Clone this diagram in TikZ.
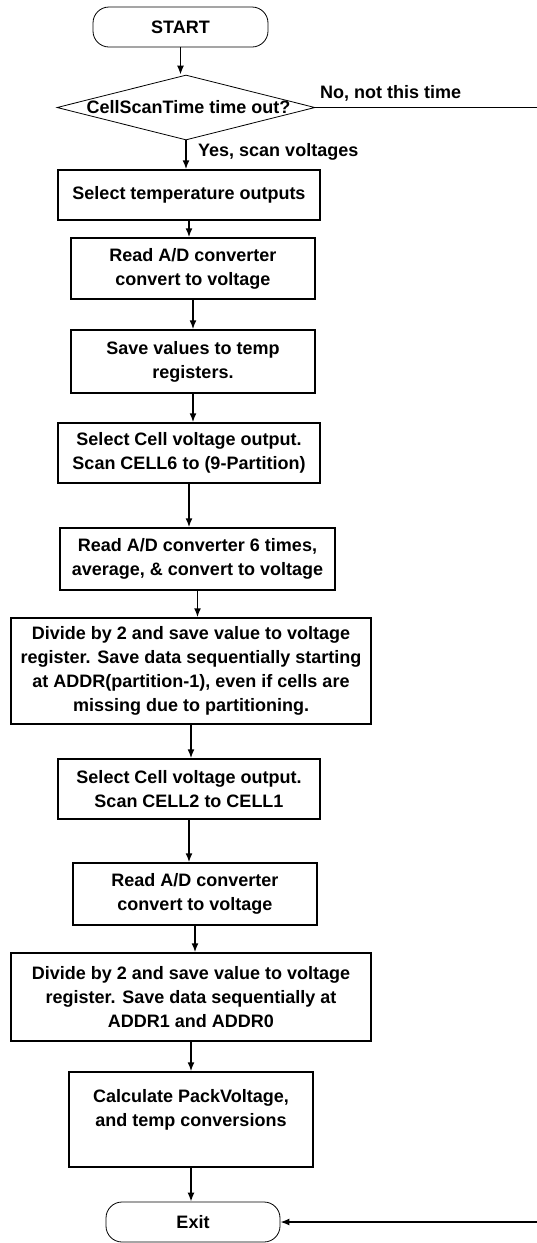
\documentclass[tikz,border=0pt]{standalone}
\usepackage{fontspec}
\setmainfont{Liberation Sans}
\usetikzlibrary{arrows.meta,shapes.geometric}

\begin{document}
\begin{tikzpicture}[x=1pt,y=-1pt,
	every node/.style={font=\bfseries\fontsize{18}{24}\selectfont},
	procbox/.style={draw,line width=1.5pt,inner sep=0pt,align=center},
	termbox/.style={draw,line width=0.8pt,rounded corners=16pt,inner sep=0pt,minimum width=175pt,minimum height=40pt},
	decision/.style={draw,diamond,line width=0.8pt,inner sep=0pt,minimum width=258pt,minimum height=65pt},
	flow/.style={line width=1.5pt,-{Latex[length=9pt,width=7pt]}}]
	\useasboundingbox (0,0) rectangle (537,1243);
	% terminals and decision
	\node[termbox] (start) at (180.5,27) {START};
	\node[decision] (timeout) at (186,107.5) {\makebox[0pt]{\hspace{5pt}CellScanTime time out?}};
	\node[termbox,minimum width=174pt] (exit) at (193,1222) {Exit};
	% process steps
	\node[procbox,minimum width=262pt,minimum height=50pt] (seltemp) at (189,195) {Select temperature outputs};
	\node[procbox,minimum width=244pt,minimum height=61pt] (readtemp) at (193,268.5) {Read A/D converter\\convert to voltage};
	\node[procbox,minimum width=244pt,minimum height=63pt] (savetemp) at (193,361.5) {Save values to temp\\registers.};
	\node[procbox,minimum width=262pt,minimum height=60pt] (selhigh) at (189,453) {Select Cell voltage output.\\Scan CELL6 to (9-Partition)};
	\node[procbox,minimum width=275pt,minimum height=62pt] (readhigh) at (197.5,559) {Read A/D converter 6 times,\\average, \& convert to voltage};
	\node[procbox,minimum width=360pt,minimum height=106pt] (savehigh) at (191,671) {Divide by 2 and save value to voltage\\register. Save data sequentially starting\\at ADDR(partition-1), even if cells are\\missing due to partitioning.};
	\node[procbox,minimum width=262pt,minimum height=60pt] (sellow) at (189,789) {Select Cell voltage output.\\Scan CELL2 to CELL1};
	\node[procbox,minimum width=244pt,minimum height=62pt] (readlow) at (195,894) {Read A/D converter\\convert to voltage};
	\node[procbox,minimum width=360pt,minimum height=88pt] (savelow) at (191,997) {Divide by 2 and save value to voltage\\register. Save data sequentially at\\ADDR1 and ADDR0};
	\node[procbox,minimum width=244pt,minimum height=95pt] (calcpack) at (191,1119.5) {Calculate PackVoltage,\\and temp conversions\\\mbox{}};
	% branch labels
	\node[anchor=west,inner sep=0pt] (nolbl) at (320,93) {No, not this time};
	\node[anchor=west,inner sep=0pt] (yeslbl) at (198,152) {Yes, scan voltages};
	\coordinate (noend) at (537,107.5);
	\coordinate (exitin) at (537,1222);
	% connectors
	\draw[flow] (start.south) -- (start.south |- timeout.north);
	\draw[flow] (timeout.south) -- (timeout.south |- seltemp.north);
	\draw[line width=1.5pt] (timeout.east) -- (noend);
	\draw[flow] (seltemp.south) -- (seltemp.south |- readtemp.north);
	\draw[flow] (readtemp.south) -- (readtemp.south |- savetemp.north);
	\draw[flow] (savetemp.south) -- (savetemp.south |- selhigh.north);
	\draw[flow] (selhigh.south) -- (selhigh.south |- readhigh.north);
	\draw[flow] (readhigh.south) -- (readhigh.south |- savehigh.north);
	\draw[flow] (savehigh.south) -- (savehigh.south |- sellow.north);
	\draw[flow] (sellow.south) -- (sellow.south |- readlow.north);
	\draw[flow] (readlow.south) -- (readlow.south |- savelow.north);
	\draw[flow] (savelow.south) -- (savelow.south |- calcpack.north);
	\draw[flow] (calcpack.south) -- (calcpack.south |- exit.north);
	\draw[flow] (exitin) -- (exit.east);
\end{tikzpicture}
\end{document}
